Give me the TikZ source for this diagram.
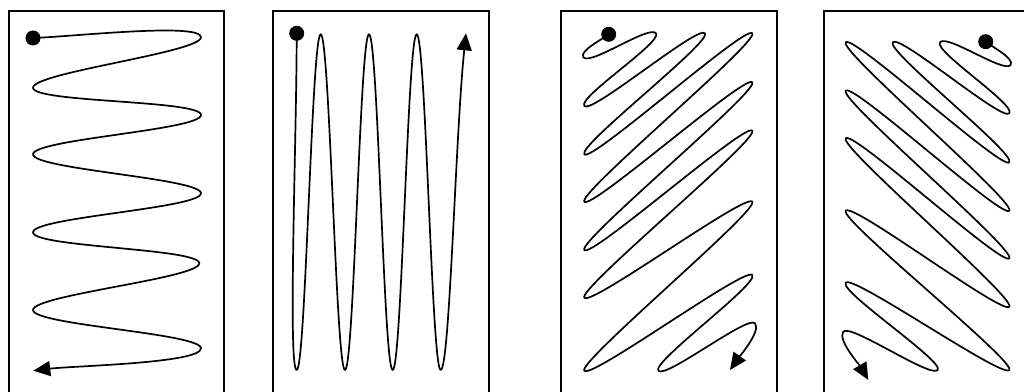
\documentclass[tikz,border=0pt]{standalone}
\usetikzlibrary{arrows.meta}
\begin{document}
\begin{tikzpicture}[x=1pt,y=1pt,
  frame/.style={draw=black,line width=1.8pt},
  wave/.style={draw=black,line width=1.7pt,line join=round},
  startdot/.style={circle,fill=black,draw=none,inner sep=0pt,minimum size=15pt},
  tipend/.style={-{Triangle[length=17pt,width=15pt]}},
  zA/.style={out=-90,in=90,distance=15pt},
  zB/.style={out=0,in=180,distance=9pt},
  zC/.style={out=-52,in=128,distance=11pt},
  zD/.style={out=-128,in=52,distance=11pt}]
\useasboundingbox (0,0) rectangle (1024,391);
\clip (0,0) rectangle (1024,391);
\fill[white] (0,0) rectangle (1024,391);

% frames
\draw[frame] (9,380) rectangle (224,-10);
\draw[frame] (272.7,380) rectangle (488.7,-10);
\draw[frame] (561,380) rectangle (777,-10);
\draw[frame] (824.3,380) rectangle (1040,-10);

% ---------- panel 1 ----------
\coordinate (a1) at (201,353.7);
\coordinate (a2) at (33,303.3);
\coordinate (a3) at (201,276);
\coordinate (a4) at (33,236.7);
\coordinate (a5) at (201,197.7);
\coordinate (a6) at (33,158.7);
\coordinate (a7) at (199.3,127.7);
\coordinate (a8) at (33,81);
\coordinate (a9) at (201,42.7);
\coordinate (e1) at (33.3,20.3);
\node[startdot] (s1) at (33,353) {};
\draw[wave,tipend] (s1.center) to[out=2,in=90,out distance=40pt,in distance=15pt] (a1)
  to[zA] (a2) to[zA] (a3) to[zA] (a4) to[zA] (a5) to[zA] (a6) to[zA] (a7) to[zA] (a8) to[zA] (a9)
  to[out=-90,in=7,out distance=15pt,in distance=40pt] (e1);

% ---------- panel 2 ----------
\coordinate (b1) at (296.7,21);
\coordinate (b2) at (320.7,356.7);
\coordinate (b3) at (345,21);
\coordinate (b4) at (369,356.7);
\coordinate (b5) at (392.7,21);
\coordinate (b6) at (416.7,356.7);
\coordinate (b7) at (440.7,21);
\coordinate (e2) at (466,357.7);
\node[startdot] (s2) at (296.7,357.7) {};
\draw[wave,tipend] (s2.center) to[out=-90,in=180,out distance=100pt,in distance=9pt] (b1)
  to[zB] (b2) to[zB] (b3) to[zB] (b4) to[zB] (b5) to[zB] (b6) to[zB] (b7)
  to[out=0,in=-96,out distance=9pt,in distance=100pt] (e2);

% ---------- panel 3 ----------
\coordinate (c1) at (583.3,333.7);
\coordinate (c2) at (656,357.7);
\coordinate (c3) at (584.3,285);
\coordinate (c4) at (705,357.7);
\coordinate (c5) at (584.3,236.7);
\coordinate (c6) at (752.3,357.7);
\coordinate (c7) at (584.3,189.3);
\coordinate (c8) at (752.3,308.7);
\coordinate (c9) at (584.3,141);
\coordinate (c10) at (752.3,260.3);
\coordinate (c11) at (584.3,93.3);
\coordinate (c12) at (752.3,189.3);
\coordinate (c13) at (584.3,20.3);
\coordinate (c14) at (752.3,116);
\coordinate (c15) at (658.3,20.3);
\coordinate (c16) at (755,67.7);
\coordinate (e3) at (730,21);
\node[startdot] (s3) at (608.7,356.7) {};
\draw[wave,tipend] (s3.center) to[out=-138,in=122,out distance=6pt,in distance=8pt] (c1)
  to[zC] (c2) to[zC] (c3) to[zC] (c4) to[zC] (c5) to[zC] (c6) to[zC] (c7) to[zC] (c8)
  to[zC] (c9) to[zC] (c10) to[zC] (c11) to[zC] (c12) to[zC] (c13) to[zC] (c14)
  to[zC] (c15) to[zC] (c16)
  to[out=-50,in=55,out distance=10pt,in distance=15pt] (e3);

% ---------- panel 4 ----------
\coordinate (f1) at (1010.7,326);
\coordinate (f2) at (940,348.7);
\coordinate (f3) at (1009.3,277.7);
\coordinate (f4) at (892.7,348.7);
\coordinate (f5) at (1009.3,228.7);
\coordinate (f6) at (845.7,348.7);
\coordinate (f7) at (1009.3,180.3);
\coordinate (f8) at (845.7,300.3);
\coordinate (f9) at (1009.3,132.7);
\coordinate (f10) at (845.7,252.7);
\coordinate (f11) at (1009.3,84.3);
\coordinate (f12) at (845.7,180.3);
\coordinate (f13) at (1009.3,21);
\coordinate (f14) at (845.7,108.3);
\coordinate (f15) at (937.7,21);
\coordinate (f16) at (843.3,59.3);
\coordinate (e4) at (868.3,11);
\node[startdot] (s4) at (985.7,349.3) {};
\draw[wave,tipend] (s4.center) to[out=-43,in=60,out distance=6pt,in distance=8pt] (f1)
  to[zD] (f2) to[zD] (f3) to[zD] (f4) to[zD] (f5) to[zD] (f6) to[zD] (f7) to[zD] (f8)
  to[zD] (f9) to[zD] (f10) to[zD] (f11) to[zD] (f12) to[zD] (f13) to[zD] (f14)
  to[zD] (f15) to[zD] (f16)
  to[out=-130,in=120,out distance=10pt,in distance=15pt] (e4);
\end{tikzpicture}
\end{document}
